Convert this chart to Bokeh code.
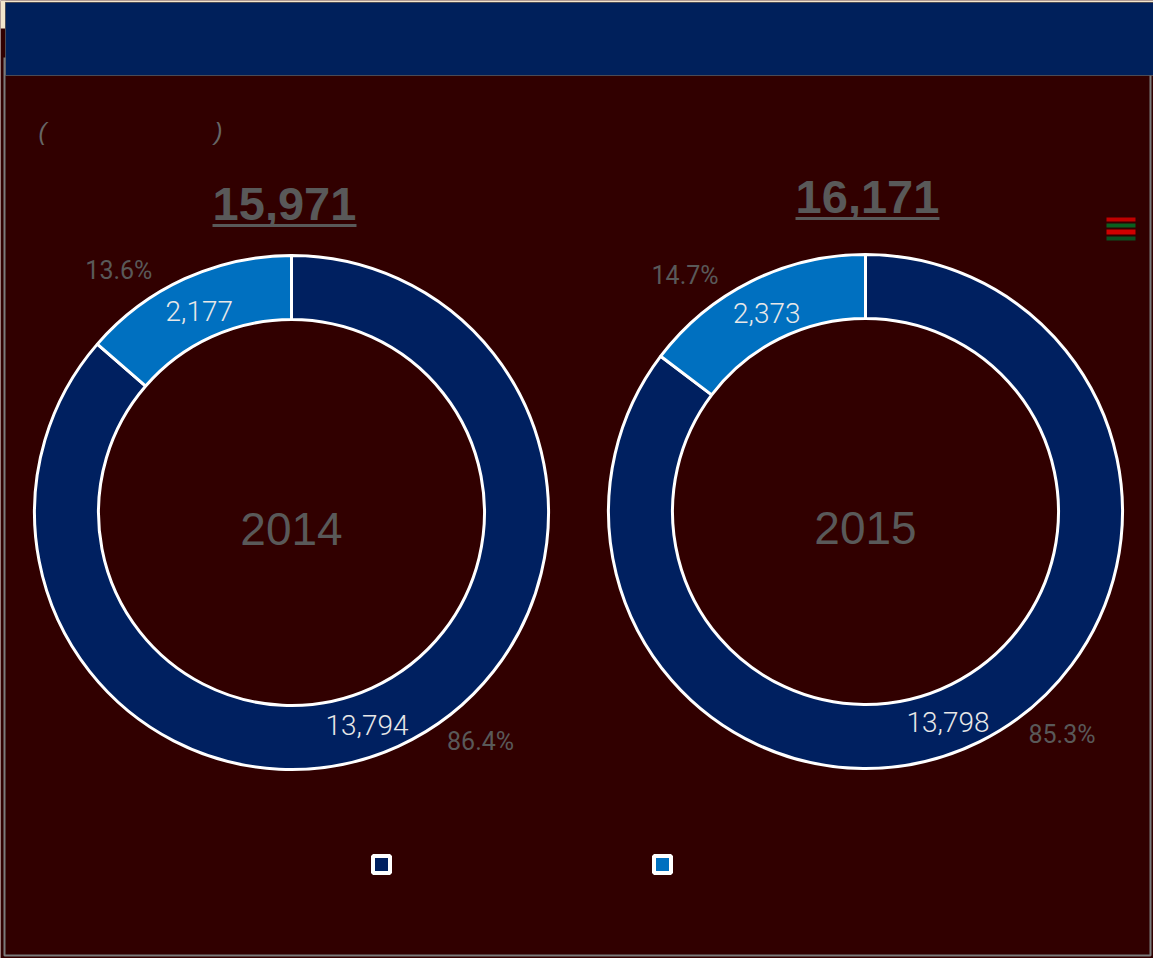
import math
from bokeh.plotting import figure
from bokeh.models import Range1d, ColumnDataSource
from bokeh.core.properties import value
from bokeh.embed import file_html
from bokeh.resources import INLINE

# ---------------- data ----------------
years = ["2014", "2015"]
series_main = [13794, 13798]     # navy segment
series_minor = [2177, 2373]      # light-blue segment
colors = ["#002060", "#0070C0"]

# ---------------- layout (page pixel coordinates) ----------------
PAGE_W, PAGE_H = 1153, 958
def Y(v):
    return PAGE_H - v

centers_x = [291, 865]
centers_y = [512, 511]
R_OUT, R_IN = 257, 193
BG = "#310000"
GRAY = "#595959"

p = figure(width=PAGE_W, height=PAGE_H, x_range=Range1d(0, PAGE_W), y_range=Range1d(0, PAGE_H),
           output_backend="svg", toolbar_location=None, x_axis_type=None, y_axis_type=None,
           min_border=0)
p.background_fill_color = BG
p.border_fill_color = BG
p.outline_line_color = None
p.grid.visible = False

# page chrome: light strip, header bar, frame
p.quad(left=[0, 0], right=[PAGE_W, 5], top=[Y(0), Y(0)], bottom=[Y(2), Y(28)],
       fill_color="#f3e6cc", line_color=None)
p.quad(left=5, right=PAGE_W + 5, top=Y(2), bottom=Y(75), fill_color="#00205B",
       line_color="#4a4a55", line_width=1)
p.line(x=[4, 4, 1150, 1150], y=[Y(57), Y(955), Y(955), Y(75)], line_color="#7a7a7a", line_width=2)

# title parentheses (text content not legible)
p.text(x=[42, 218], y=[Y(131), Y(131)], text=["(", ")"], text_color="#666666",
       text_font=value("Liberation Sans"), text_font_size="24px", text_font_style="italic",
       text_align="center", text_baseline="middle")

wx, wy, w_in, w_out, w_s, w_e, w_c = [], [], [], [], [], [], []
vx, vy, vt = [], [], []
px_, py_, pt = [], [], []
tot_x, tot_y, tot_t = [], [], []
for i in range(len(years)):
    cx, cy = centers_x[i], centers_y[i]
    total = series_main[i] + series_minor[i]
    vals = [series_main[i], series_minor[i]]
    start = 90.0
    for k, v in enumerate(vals):
        frac = v / total
        end = start - frac * 360.0
        wx.append(cx); wy.append(Y(cy)); w_in.append(R_IN); w_out.append(R_OUT)
        w_s.append(math.radians(start)); w_e.append(math.radians(end)); w_c.append(colors[k])
        mid = (start + end) / 2.0
        # value label inside ring
        va = mid - 5 if k == 0 else mid
        vr = 226 if k == 0 else 222
        vx.append(cx + vr * math.cos(math.radians(va)))
        vy.append(Y(cy) + vr * math.sin(math.radians(va)))
        vt.append(f"{v:,}")
        # percent label outside ring
        pa = mid + 15 if k == 0 else mid + 11
        px_.append(cx + 297 * math.cos(math.radians(pa)))
        py_.append(Y(cy) + 297 * math.sin(math.radians(pa)))
        pt.append(f"{frac * 100:.1f}%")
        start = end
    tot_x.append(cx - 7 + 9 * i); tot_y.append(Y(cy - 309 - 6 * i)); tot_t.append(f"{total:,}")

src = ColumnDataSource(dict(x=wx, y=wy, ri=w_in, ro=w_out, s=w_s, e=w_e, c=w_c))
p.annular_wedge(x="x", y="y", inner_radius="ri", outer_radius="ro", start_angle="s", end_angle="e",
                direction="clock", fill_color="c", line_color="white", line_width=3, source=src)

p.text(x=vx, y=vy, text=vt, text_color="#e8e8e8", text_font=value("Roboto Light"),
       text_font_size="28px", text_align="center", text_baseline="middle")
p.text(x=px_, y=py_, text=pt, text_color=GRAY, text_font=value("Roboto"),
       text_font_size="25px", text_align="center", text_baseline="middle")

# year in the centre
p.text(x=centers_x, y=[Y(c + 16) for c in centers_y], text=years, text_color=GRAY,
       text_font=value("Liberation Sans"), text_font_size="46px", text_align="center",
       text_baseline="middle")

# totals (bold, underlined)
p.text(x=tot_x, y=tot_y, text=tot_t, text_color=GRAY, text_font=value("Liberation Sans"),
       text_font_style="bold", text_font_size="47px", text_align="center", text_baseline="middle")
p.segment(x0=[x - 72 for x in tot_x], x1=[x + 72 for x in tot_x],
          y0=[y - 22 for y in tot_y], y1=[y - 22 for y in tot_y], line_color=GRAY, line_width=3)

# small toolbox icon (top right)
p.quad(left=[1106] * 4, right=[1135] * 4, top=[Y(217), Y(223), Y(229), Y(236)],
       bottom=[Y(221), Y(227), Y(234), Y(240)],
       fill_color=["#c00000", "#0a6020", "#d00000", "#0a5020"], line_color=None)

# legend markers (labels not legible)
p.scatter(x=[381, 662], y=[Y(864), Y(864)], marker="square", size=17, fill_color=colors,
          line_color="white", line_width=4)

open("out.html", "w").write(file_html(p, INLINE))
